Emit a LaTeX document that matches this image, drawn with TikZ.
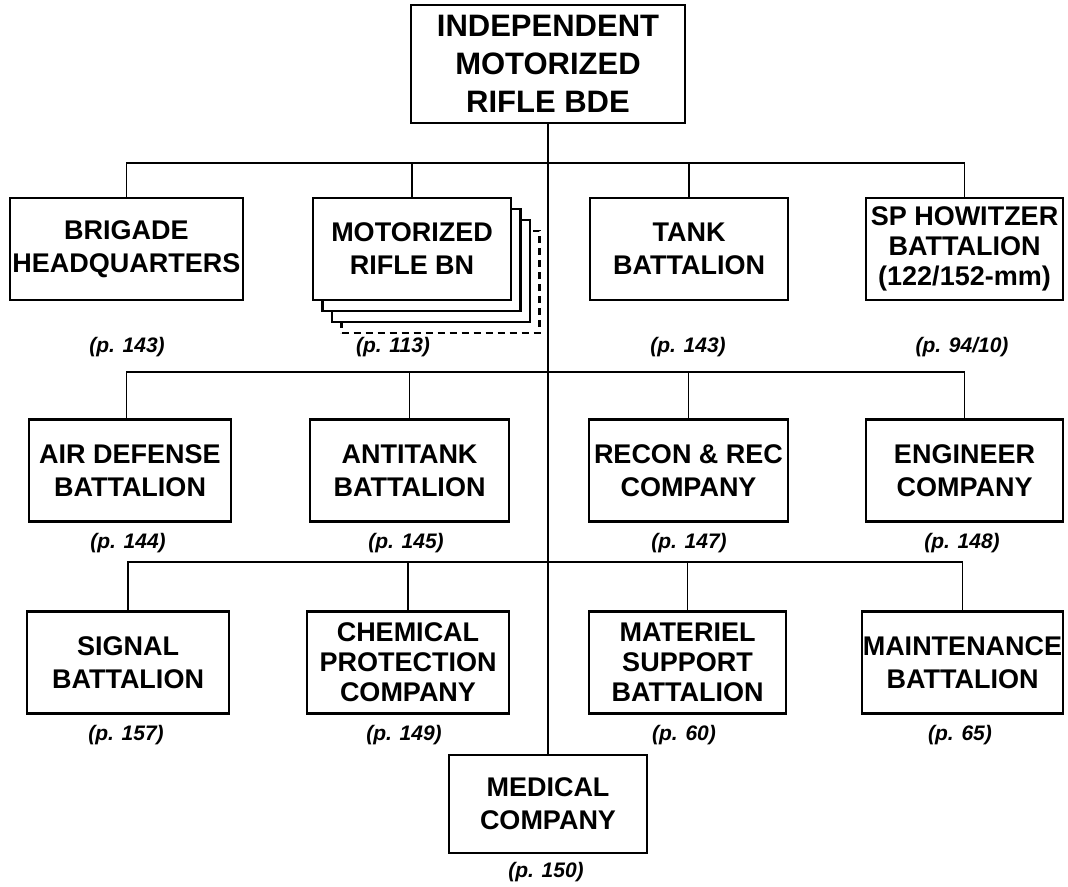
\documentclass[tikz,border=0pt]{standalone}
\usepackage{fontspec}
\setmainfont{Liberation Sans}
\begin{document}
\begin{tikzpicture}[x=1pt,y=-1pt,
  unit/.style={draw, line width=2.2pt, fill=white, inner sep=0pt, align=center,
    font=\bfseries\fontsize{27}{33}\selectfont, minimum height=102pt, minimum width=199pt},
  unitthree/.style={unit, font=\bfseries\fontsize{27}{30}\selectfont},
  ghost/.style={unit},
  pg/.style={font=\bfseries\itshape\fontsize{21}{24}\selectfont, inner sep=0pt},
  link/.style={line width=1.8pt}]
\useasboundingbox (0,0) rectangle (1068,886);

% top
\node[unit, minimum width=274pt, minimum height=118pt, font=\bfseries\fontsize{31}{38}\selectfont]
  (top) at (548,64) {INDEPENDENT\\MOTORIZED\\RIFLE BDE};

% row 1
\node[unit, minimum width=233pt] (hq) at (126.5,249) {BRIGADE\\HEADQUARTERS};
\node[ghost, minimum width=198pt, dash pattern=on 7pt off 5pt] (mrc) at (440.5,282) {};
\node[ghost, minimum width=198pt] (mrb) at (431,271) {};
\node[ghost, minimum width=198pt] (mra) at (421.5,260) {};
\node[unit, minimum width=198pt] (mr) at (412,249) {MOTORIZED\\RIFLE BN};
\node[unit, minimum width=198pt] (tank) at (689,249) {TANK\\BATTALION};
\node[unitthree, minimum width=197pt] (sp) at (964.5,249) {SP HOWITZER\\BATTALION\\(122/152-mm)};

\node[pg] (p1) at (127,347) {(p. 143)};
\node[pg] (p2) at (393,347) {(p. 113)};
\node[pg] (p3) at (688,347) {(p. 143)};
\node[pg] (p4) at (962,347) {(p. 94/10)};

% row 2
\node[unit, minimum width=202pt] (ad) at (130,470.5) {AIR DEFENSE\\BATTALION};
\node[unit] (at) at (409.5,470.5) {ANTITANK\\BATTALION};
\node[unit] (rc) at (688.5,470.5) {RECON \& REC\\COMPANY};
\node[unit, minimum width=197pt] (en) at (964.5,470.5) {ENGINEER\\COMPANY};

\node[pg] (p5) at (128,543) {(p. 144)};
\node[pg] (p6) at (406,543) {(p. 145)};
\node[pg] (p7) at (689,543) {(p. 147)};
\node[pg] (p8) at (962,543) {(p. 148)};

% row 3
\node[unit, minimum width=202pt] (sg) at (128,662.5) {SIGNAL\\BATTALION};
\node[unitthree, minimum width=202pt] (ch) at (408,662.5) {CHEMICAL\\PROTECTION\\COMPANY};
\node[unitthree, minimum width=197pt] (ms) at (687.5,662.5) {MATERIEL\\SUPPORT\\BATTALION};
\node[unit, minimum width=201pt] (mt) at (962.5,662.5) {MAINTENANCE\\BATTALION};

\node[pg] (p9) at (126,735) {(p. 157)};
\node[pg] (p10) at (404,735) {(p. 149)};
\node[pg] (p11) at (684,735) {(p. 60)};
\node[pg] (p12) at (960,735) {(p. 65)};

% medical
\node[unit, minimum width=198pt, minimum height=98pt] (med) at (548,804) {MEDICAL\\COMPANY};
\node[pg] (p13) at (546,872) {(p. 150)};

% buses
\coordinate (b1) at (548,163);
\coordinate (b2) at (548,372);
\coordinate (b3) at (548,562);

\draw[link] (top.south) -- (med.north);

\draw[link] (hq.north) -- (hq.north |- b1) -- (sp.north |- b1) -- (sp.north);
\draw[link] (mr.north) -- (mr.north |- b1);
\draw[link] (tank.north) -- (tank.north |- b1);

\draw[link] (ad.north -| hq.north) -- (hq.north |- b2) -- (en.north |- b2) -- (en.north);
\draw[link] (at.north) -- (at.north |- b2);
\draw[link] (rc.north) -- (rc.north |- b2);

\draw[link] (sg.north) -- (sg.north |- b3) -- (mt.north |- b3) -- (mt.north);
\draw[link] (ch.north) -- (ch.north |- b3);
\draw[link] (ms.north) -- (ms.north |- b3);
\end{tikzpicture}
\end{document}
